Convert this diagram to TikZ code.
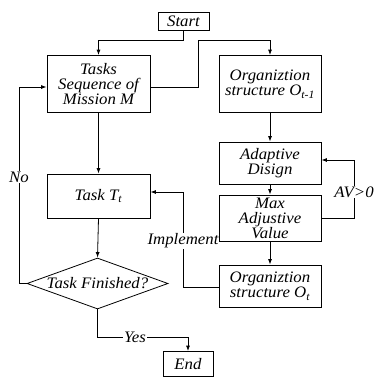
\documentclass[tikz,border=0pt]{standalone}
\usepackage{fontspec}
\setmainfont{Liberation Serif}[FakeStretch=1.05]
\usetikzlibrary{shapes.geometric,arrows.meta}
\tikzset{
  x=1pt,y=-1pt,
  box/.style={draw,line width=0.8pt,inner sep=1pt,align=center,font=\itshape\fontsize{16}{15}\selectfont},
  lbl/.style={fill=white,inner sep=1pt,font=\itshape\fontsize{16}{15}\selectfont},
  arr/.style={line width=0.8pt,-{Latex[length=5.5pt,width=4pt]}}
}
\begin{document}
\begin{tikzpicture}
\useasboundingbox (0,0) rectangle (374,378);
\node[box,minimum width=51pt,minimum height=18pt] (start) at (183.5,21) {Start};
\node[box,minimum width=103pt,minimum height=57pt] (tasks) at (98.5,84) {Tasks\\Sequence of\\Mission M};
\node[box,minimum width=102pt,minimum height=57pt] (orgA) at (270,84) {Organiztion\\structure O\textsubscript{\itshape t-1}};
\node[box,minimum width=102pt,minimum height=42pt] (adapt) at (270,163) {Adaptive\\Disign};
\node[box,minimum width=102pt,minimum height=46pt] (maxv) at (270,218) {Max\\Adjustive\\Value};
\node[box,minimum width=103pt,minimum height=44pt] (task) at (98.5,196) {Task T\textsubscript{\itshape t}};
\node[box,minimum width=102pt,minimum height=42pt] (orgB) at (270,286) {Organiztion\\structure O\textsubscript{\itshape t}};
\node[diamond,draw,line width=0.8pt,inner sep=0pt,minimum width=141pt,minimum height=51pt] (dia) at (97.5,283.5) {};
\node[font=\itshape\fontsize{16}{15}\selectfont,inner sep=0pt] (diatext) at (dia.center) {Task Finished?};
\node[box,minimum width=50pt,minimum height=25pt] (end) at (188,364) {End};
\coordinate (c1) at (183.5,40);
\draw[arr] (start.south) -- (c1) -| (tasks.north);
\coordinate (c2) at (198,87);
\coordinate (c3) at (198,40);
\draw[arr] (tasks.east |- c2) -- (c2) -- (c3) -| (orgA.north);
\draw[arr] (orgA.south) -- (adapt.north);
\draw[arr] (adapt.south) -- (maxv.north);
\coordinate (c4) at (354,218);
\coordinate (c5) at (354,160);
\draw[arr] (maxv.east) -- (c4) -- (c5) -- (adapt.east |- c5);
\node[lbl] (av) at (354,192) {AV>0};
\draw[arr] (maxv.south) -- (orgB.north);
\coordinate (c6) at (183,287);
\coordinate (c7) at (183,192);
\draw[arr] (orgB.west |- c6) -- (c6) -- (c7) -- (task.east |- c7);
\node[lbl] (impl) at (183,241) {Implement};
\draw[arr] (tasks.south) -- (task.north);
\draw[arr] (task.south) -- (dia.north);
\coordinate (c8) at (19,283.5);
\coordinate (c9) at (19,87);
\draw[arr] (dia.west) -- (c8) -- (c9) -- (tasks.west |- c9);
\node[lbl] (no) at (19,177) {No};
\coordinate (c10) at (97.5,337);
\coordinate (c11) at (188,337);
\draw[arr] (dia.south) -- (c10) -- (c11) -- (end.north);
\node[lbl] (yes) at (135,337) {Yes};
\end{tikzpicture}
\end{document}
